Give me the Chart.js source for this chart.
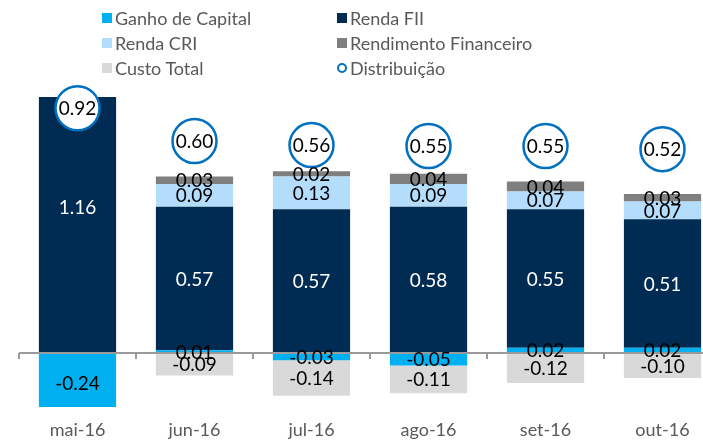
<!DOCTYPE html>
<html>
<head>
<meta charset="utf-8">
<script src="https://cdn.jsdelivr.net/npm/chart.js@4"></script>
<style>
  body { margin: 0; overflow: hidden; background: #fff; }
  #wrap { position: relative; width: 740px; height: 442px; }
  .item { position: absolute; height: 25px; display: flex; align-items: center;
          font-family: Lato, sans-serif; font-size: 18px; color: #595959; white-space: nowrap; }
  .sw { width: 10px; height: 10px; margin-right: 3px; }
  .ring { width: 6px; height: 6px; border: 2.5px solid #0070c0; border-radius: 50%; margin-right: 3px; }
</style>
</head>
<body>
<div id="wrap">
  <canvas id="chart" width="740" height="442"></canvas>
  <div class="item" style="left:102px;top:5px"><span class="sw" style="background:#00b0f0"></span>Ganho de Capital</div>
  <div class="item" style="left:337px;top:5px"><span class="sw" style="background:#002b53"></span>Renda FII</div>
  <div class="item" style="left:102px;top:30px"><span class="sw" style="background:#b4dcfb"></span>Renda CRI</div>
  <div class="item" style="left:337px;top:30px"><span class="sw" style="background:#7f7f7f"></span>Rendimento Financeiro</div>
  <div class="item" style="left:102px;top:55px"><span class="sw" style="background:#d9d9d9"></span>Custo Total</div>
  <div class="item" style="left:337px;top:55px"><span class="ring"></span>Distribuição</div>
</div>
<script>
const categories = ['mai-16', 'jun-16', 'jul-16', 'ago-16', 'set-16', 'out-16'];
const ganhoCapital = [-0.24, 0.01, -0.03, -0.05, 0.02, 0.02];
const rendaFII = [1.16, 0.57, 0.57, 0.58, 0.55, 0.51];
const rendaCRI = [null, 0.09, 0.13, 0.09, 0.07, 0.07];
const rendFinanceiro = [null, 0.03, 0.02, 0.04, 0.04, 0.03];
const custoTotal = [null, -0.09, -0.14, -0.11, -0.12, -0.10];
const distribuicao = [0.92, 0.60, 0.56, 0.55, 0.55, 0.52];

const labelFont = '19px Lato, sans-serif';

// zero line with category ticks, then value labels
const labelsPlugin = {
  id: 'labels',
  afterDatasetsDraw(chart) {
    const ctx = chart.ctx;
    const area = chart.chartArea;
    const x = chart.scales.x;
    const y0 = Math.round(chart.scales.y.getPixelForValue(0));
    ctx.save();
    ctx.strokeStyle = '#9a9a9a';
    ctx.lineWidth = 2;
    ctx.beginPath();
    ctx.moveTo(area.left, y0);
    ctx.lineTo(area.right, y0);
    const step = x.getPixelForValue(1) - x.getPixelForValue(0);
    for (let i = 0; i < categories.length; i++) {
      const bx = Math.round(x.getPixelForValue(i) - step / 2);
      ctx.moveTo(bx, y0);
      ctx.lineTo(bx, y0 + 6);
    }
    ctx.stroke();

    ctx.font = labelFont;
    ctx.textAlign = 'center';
    ctx.textBaseline = 'middle';
    chart.data.datasets.forEach((ds, di) => {
      const meta = chart.getDatasetMeta(di);
      meta.data.forEach((el, i) => {
        const v = ds.data[i];
        if (v === null || v === undefined) return;
        const ty = ds.type === 'line' ? el.y : (el.y + el.base) / 2;
        ctx.fillStyle = ds.label === 'Renda FII' ? '#ffffff' : '#000000';
        ctx.fillText(v.toFixed(2), el.x, ty + 1);
      });
    });
    ctx.restore();
  }
};

const barCommon = { stack: 's', order: 1, barPercentage: 1, categoryPercentage: 0.66, yAxisID: 'y' };

new Chart(document.getElementById('chart'), {
  data: {
    labels: categories,
    datasets: [
      { type: 'line', label: 'Distribuição', data: distribuicao, yAxisID: 'y2', order: 0,
        showLine: false, clip: false, pointRadius: 22, pointBorderWidth: 2.5,
        pointBorderColor: '#0070c0', pointBackgroundColor: '#ffffff' },
      { type: 'bar', label: 'Ganho de Capital', data: ganhoCapital, backgroundColor: '#00b0f0', ...barCommon },
      { type: 'bar', label: 'Renda FII', data: rendaFII, backgroundColor: '#002b53', ...barCommon },
      { type: 'bar', label: 'Renda CRI', data: rendaCRI, backgroundColor: '#b4dcfb', ...barCommon },
      { type: 'bar', label: 'Rendimento Financeiro', data: rendFinanceiro, backgroundColor: '#7f7f7f', ...barCommon },
      { type: 'bar', label: 'Custo Total', data: custoTotal, backgroundColor: '#d9d9d9', ...barCommon }
    ]
  },
  options: {
    responsive: false,
    animation: false,
    devicePixelRatio: 1,
    layout: { autoPadding: false, padding: { top: 97, left: 19, right: 19, bottom: 0 } },
    plugins: { legend: { display: false }, tooltip: { enabled: false } },
    scales: {
      x: {
        stacked: true,
        grid: { display: false, drawTicks: false },
        border: { display: false },
        ticks: { color: '#595959', font: { family: 'Lato', size: 18 }, padding: 12 },
        afterFit(scale) { scale.height = 35; }
      },
      y: { display: false, stacked: true, min: -0.215, max: 1.015 },
      y2: { display: false, min: -2, max: 1.03 }
    }
  },
  plugins: [labelsPlugin]
});
</script>
</body>
</html>
